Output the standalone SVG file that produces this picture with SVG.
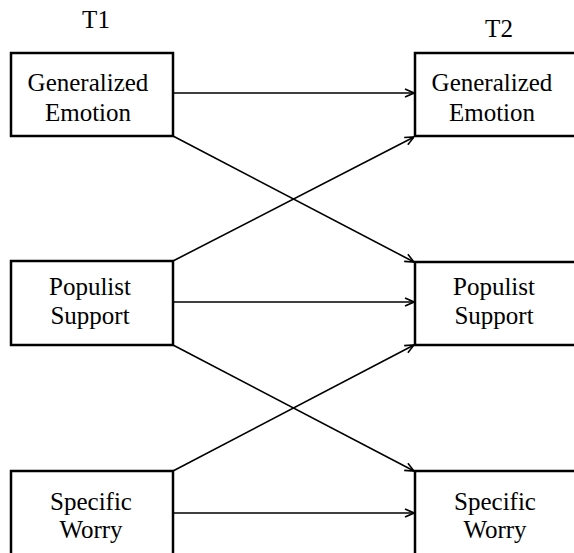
<svg xmlns="http://www.w3.org/2000/svg" width="574" height="553" viewBox="0 0 574 553">
<defs>
<style>
.box{fill:#fff;stroke:#000;stroke-width:2.5}
.t{font-family:"Liberation Serif","Times New Roman",serif;font-size:25px;fill:#000;text-anchor:middle}
.c{stroke:#000;stroke-width:1.6;fill:none;marker-end:url(#ah)}
</style>
<marker id="ah" viewBox="0 0 10 10" refX="10" refY="5" markerWidth="10" markerHeight="10" markerUnits="userSpaceOnUse" orient="auto">
<path d="M1,1 L10,5 L1,9" fill="none" stroke="#000" stroke-width="1.6"/>
</marker>
</defs>
<rect width="574" height="553" fill="#fff"/>
<text class="t" x="96" y="28">T1</text>
<text class="t" x="499" y="37">T2</text>
<g id="connectors">
<line class="c" x1="173" y1="93" x2="414" y2="93"/>
<line class="c" x1="173" y1="136" x2="414" y2="262"/>
<line class="c" x1="173" y1="261" x2="414" y2="137"/>
<line class="c" x1="173" y1="302" x2="414" y2="302"/>
<line class="c" x1="173" y1="345" x2="414" y2="471"/>
<line class="c" x1="173" y1="471" x2="414" y2="345"/>
<line class="c" x1="173" y1="513" x2="414" y2="513"/>
</g>
<g id="ge1"><rect class="box" x="11" y="53" width="162" height="83"/><text class="t" x="88" y="91">Generalized</text><text class="t" x="88" y="121">Emotion</text></g>
<g id="ps1"><rect class="box" x="11" y="261" width="162" height="84"/><text class="t" x="90" y="295">Populist</text><text class="t" x="90" y="324">Support</text></g>
<g id="sw1"><rect class="box" x="11" y="471" width="162" height="90"/><text class="t" x="91" y="510">Specific</text><text class="t" x="91" y="538">Worry</text></g>
<g id="ge2"><rect class="box" x="415" y="53" width="200" height="83"/><text class="t" x="492" y="91">Generalized</text><text class="t" x="492" y="121">Emotion</text></g>
<g id="ps2"><rect class="box" x="415" y="262" width="200" height="83"/><text class="t" x="494" y="295">Populist</text><text class="t" x="494" y="324">Support</text></g>
<g id="sw2"><rect class="box" x="415" y="471" width="200" height="90"/><text class="t" x="495" y="510">Specific</text><text class="t" x="495" y="538">Worry</text></g>
</svg>
